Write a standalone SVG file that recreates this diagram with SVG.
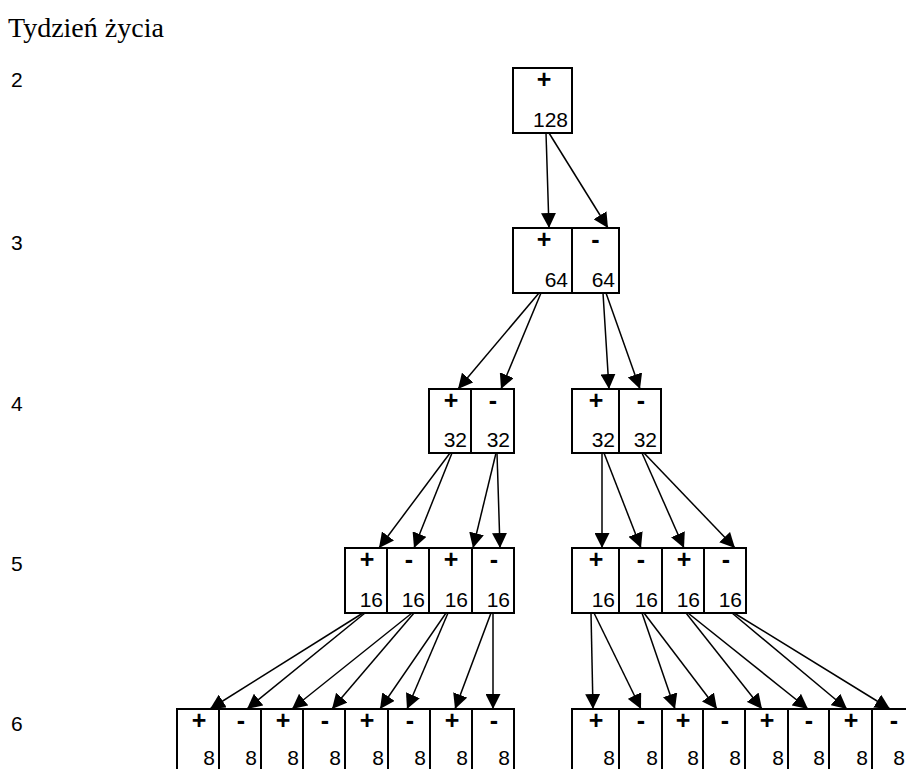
<svg xmlns="http://www.w3.org/2000/svg" width="906" height="769" viewBox="0 0 906 769">
  <defs>
    <marker id="ah" markerUnits="userSpaceOnUse" markerWidth="15" markerHeight="15" refX="15" refY="7.5" orient="auto">
      <path d="M0,0 L15,7.5 L0,15 z" fill="#000"/>
    </marker>
    <style>
      .cell rect { fill: #fff; stroke: #000; stroke-width: 2; }
      .sign { font: bold 25px "Liberation Sans", Arial, sans-serif; text-anchor: middle; fill: #000; }
      .num { font: 21px "Liberation Sans", Arial, sans-serif; text-anchor: end; fill: #000; }
      .lbl { font: 21px "Liberation Sans", Arial, sans-serif; fill: #000; }
      .title { font: 28px "Liberation Serif", "Times New Roman", serif; fill: #000; }
      #connectors line { stroke: #000; stroke-width: 1.5; marker-end: url(#ah); }
    </style>
  </defs>
  <rect width="906" height="769" fill="#fff"/>

  <!-- axis caption and week numbers -->
  <g id="axis">
    <text class="title" x="8" y="37">Tydzień życia</text>
    <text class="lbl" x="11" y="87">2</text>
    <text class="lbl" x="11" y="250">3</text>
    <text class="lbl" x="11" y="411">4</text>
    <text class="lbl" x="11" y="571">5</text>
    <text class="lbl" x="11" y="731">6</text>
  </g>

  <!-- connectors -->
  <g id="connectors">
    <line x1="546" y1="133" x2="549" y2="228"/>
    <line x1="549" y1="133" x2="608" y2="228"/>

    <line x1="539" y1="293" x2="458" y2="389"/>
    <line x1="541" y1="293" x2="501" y2="389"/>
    <line x1="603" y1="293" x2="609" y2="389"/>
    <line x1="606" y1="293" x2="640" y2="389"/>

    <line x1="450" y1="453" x2="379" y2="548"/>
    <line x1="452" y1="453" x2="414" y2="548"/>
    <line x1="496" y1="453" x2="473" y2="548"/>
    <line x1="497" y1="453" x2="500" y2="548"/>
    <line x1="602" y1="453" x2="602" y2="548"/>
    <line x1="604" y1="453" x2="641" y2="548"/>
    <line x1="642" y1="453" x2="684" y2="548"/>
    <line x1="644" y1="453" x2="735" y2="548"/>

    <line x1="363" y1="613" x2="210" y2="709"/>
    <line x1="365" y1="613" x2="247" y2="709"/>
    <line x1="412" y1="613" x2="292" y2="709"/>
    <line x1="414" y1="613" x2="332" y2="709"/>
    <line x1="446" y1="613" x2="380" y2="709"/>
    <line x1="448" y1="613" x2="407" y2="709"/>
    <line x1="491" y1="613" x2="455" y2="709"/>
    <line x1="493" y1="613" x2="493" y2="709"/>
    <line x1="591" y1="613" x2="593" y2="709"/>
    <line x1="594" y1="613" x2="641" y2="709"/>
    <line x1="642" y1="613" x2="675" y2="709"/>
    <line x1="644" y1="613" x2="717" y2="709"/>
    <line x1="686" y1="613" x2="762" y2="709"/>
    <line x1="688" y1="613" x2="808" y2="709"/>
    <line x1="732" y1="613" x2="847" y2="709"/>
    <line x1="734" y1="613" x2="890" y2="709"/>
  </g>

  <!-- week 2 -->
  <g id="w2-p1" class="cell"><rect x="513" y="68" width="59" height="65"/><text class="sign" x="544" y="88">+</text><text class="num" x="568" y="127">128</text></g>

  <!-- week 3 -->
  <g id="w3-p1" class="cell"><rect x="513" y="228" width="59" height="65"/><text class="sign" x="544" y="248">+</text><text class="num" x="568" y="287">64</text></g>
  <g id="w3-m1" class="cell"><rect x="572" y="228" width="47" height="65"/><text class="sign" x="595.5" y="248">-</text><text class="num" x="615" y="287">64</text></g>

  <!-- week 4 -->
  <g id="w4-p1" class="cell"><rect x="429" y="389" width="42" height="64"/><text class="sign" x="451" y="409">+</text><text class="num" x="467" y="447">32</text></g>
  <g id="w4-m1" class="cell"><rect x="471" y="389" width="43" height="64"/><text class="sign" x="493" y="409">-</text><text class="num" x="510" y="447">32</text></g>
  <g id="w4-p2" class="cell"><rect x="572" y="389" width="47" height="64"/><text class="sign" x="596" y="409">+</text><text class="num" x="615" y="447">32</text></g>
  <g id="w4-m2" class="cell"><rect x="619" y="389" width="42" height="64"/><text class="sign" x="641" y="409">-</text><text class="num" x="657" y="447">32</text></g>

  <!-- week 5 -->
  <g id="w5-p1" class="cell"><rect x="345" y="548" width="42" height="65"/><text class="sign" x="367" y="568">+</text><text class="num" x="383" y="607">16</text></g>
  <g id="w5-m1" class="cell"><rect x="387" y="548" width="42" height="65"/><text class="sign" x="409" y="568">-</text><text class="num" x="425" y="607">16</text></g>
  <g id="w5-p2" class="cell"><rect x="429" y="548" width="43" height="65"/><text class="sign" x="451" y="568">+</text><text class="num" x="468" y="607">16</text></g>
  <g id="w5-m2" class="cell"><rect x="472" y="548" width="42" height="65"/><text class="sign" x="494" y="568">-</text><text class="num" x="510" y="607">16</text></g>
  <g id="w5-p3" class="cell"><rect x="572" y="548" width="47" height="65"/><text class="sign" x="596" y="568">+</text><text class="num" x="615" y="607">16</text></g>
  <g id="w5-m3" class="cell"><rect x="619" y="548" width="43" height="65"/><text class="sign" x="641" y="568">-</text><text class="num" x="658" y="607">16</text></g>
  <g id="w5-p4" class="cell"><rect x="662" y="548" width="42" height="65"/><text class="sign" x="684" y="568">+</text><text class="num" x="700" y="607">16</text></g>
  <g id="w5-m4" class="cell"><rect x="704" y="548" width="42" height="65"/><text class="sign" x="726" y="568">-</text><text class="num" x="742" y="607">16</text></g>

  <!-- week 6 -->
  <g id="w6-p1" class="cell"><rect x="177" y="709" width="42" height="65"/><text class="sign" x="199" y="729">+</text><text class="num" x="215" y="765">8</text></g>
  <g id="w6-m1" class="cell"><rect x="219" y="709" width="42" height="65"/><text class="sign" x="241" y="729">-</text><text class="num" x="257" y="765">8</text></g>
  <g id="w6-p2" class="cell"><rect x="261" y="709" width="42" height="65"/><text class="sign" x="283" y="729">+</text><text class="num" x="299" y="765">8</text></g>
  <g id="w6-m2" class="cell"><rect x="303" y="709" width="42" height="65"/><text class="sign" x="325" y="729">-</text><text class="num" x="341" y="765">8</text></g>
  <g id="w6-p3" class="cell"><rect x="345" y="709" width="43" height="65"/><text class="sign" x="367" y="729">+</text><text class="num" x="384" y="765">8</text></g>
  <g id="w6-m3" class="cell"><rect x="388" y="709" width="42" height="65"/><text class="sign" x="410" y="729">-</text><text class="num" x="426" y="765">8</text></g>
  <g id="w6-p4" class="cell"><rect x="430" y="709" width="42" height="65"/><text class="sign" x="452" y="729">+</text><text class="num" x="468" y="765">8</text></g>
  <g id="w6-m4" class="cell"><rect x="472" y="709" width="42" height="65"/><text class="sign" x="494" y="729">-</text><text class="num" x="510" y="765">8</text></g>
  <g id="w6-p5" class="cell"><rect x="572" y="709" width="47" height="65"/><text class="sign" x="596" y="729">+</text><text class="num" x="615" y="765">8</text></g>
  <g id="w6-m5" class="cell"><rect x="619" y="709" width="43" height="65"/><text class="sign" x="641" y="729">-</text><text class="num" x="658" y="765">8</text></g>
  <g id="w6-p6" class="cell"><rect x="662" y="709" width="41" height="65"/><text class="sign" x="683" y="729">+</text><text class="num" x="699" y="765">8</text></g>
  <g id="w6-m6" class="cell"><rect x="703" y="709" width="42" height="65"/><text class="sign" x="725" y="729">-</text><text class="num" x="741" y="765">8</text></g>
  <g id="w6-p7" class="cell"><rect x="745" y="709" width="43" height="65"/><text class="sign" x="767" y="729">+</text><text class="num" x="784" y="765">8</text></g>
  <g id="w6-m7" class="cell"><rect x="788" y="709" width="41" height="65"/><text class="sign" x="809" y="729">-</text><text class="num" x="825" y="765">8</text></g>
  <g id="w6-p8" class="cell"><rect x="829" y="709" width="43" height="65"/><text class="sign" x="851" y="729">+</text><text class="num" x="868" y="765">8</text></g>
  <g id="w6-m8" class="cell"><rect x="872" y="709" width="42" height="65"/><text class="sign" x="894" y="729">-</text><text class="num" x="905" y="765">8</text></g>
</svg>
